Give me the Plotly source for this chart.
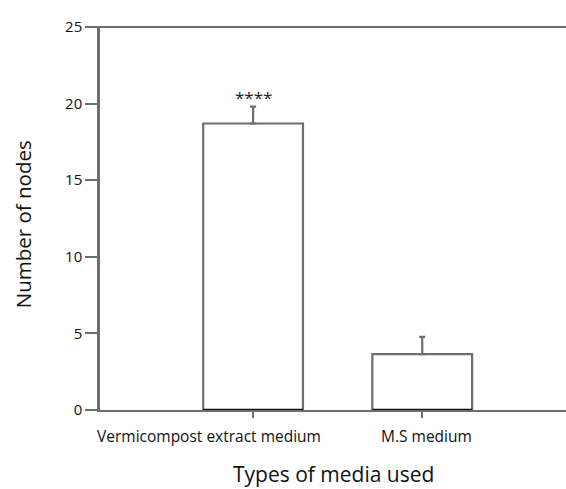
import plotly.graph_objects as go

# Mean number of nodes per culture medium, with standard deviation
media = ["Vermicompost extract medium", "M.S medium"]
nodes_mean = [18.7, 3.65]
nodes_sd = [1.1, 1.12]
significance = ["****", ""]
label_shift = [-44, 4]   # horizontal offset of each category label, px

axis_col = "#6e6e6e"
font_fam = "Open Sans, Liberation Sans, sans-serif"
bar_w = 0.59
xs = list(range(len(media)))

fig = go.Figure()
fig.add_trace(go.Bar(
    x=xs,
    y=nodes_mean,
    width=bar_w,
    marker=dict(color="white", line=dict(color=axis_col, width=2.2)),
    error_y=dict(type="data", symmetric=False, array=nodes_sd,
                 arrayminus=[0] * len(nodes_sd),
                 color=axis_col, thickness=2.2, width=3),
    showlegend=False,
))

# darker base line under each bar
base_x, base_y = [], []
for i in xs:
    base_x += [i - bar_w / 2, i + bar_w / 2, None]
    base_y += [0, 0, None]
fig.add_trace(go.Scatter(x=base_x, y=base_y, mode="lines",
                         line=dict(color="#111", width=2.5),
                         hoverinfo="skip", showlegend=False))

for i, (m, s, lab) in enumerate(zip(nodes_mean, nodes_sd, significance)):
    if lab:
        fig.add_annotation(x=i, y=m + s, text=lab, showarrow=False,
                           font=dict(family=font_fam, size=17, color="#222"),
                           yanchor="middle", yshift=9)

# category labels under the axis
for i, (name, dx) in enumerate(zip(media, label_shift)):
    fig.add_annotation(x=i, y=0, yref="y", text=name, showarrow=False,
                       font=dict(family=font_fam, size=15.5, color="#111"),
                       xanchor="center", yanchor="middle",
                       xshift=dx, yshift=-26)

# axis titles
fig.add_annotation(xref="paper", yref="paper", x=0.5, y=0, yshift=-64,
                   text="Types of media used", showarrow=False,
                   font=dict(family=font_fam, size=21, color="#111"),
                   xanchor="center", yanchor="middle")
fig.add_annotation(xref="paper", yref="paper", x=0, y=0.485, xshift=-77,
                   text="Number of nodes", showarrow=False, textangle=-90,
                   font=dict(family=font_fam, size=20.5, color="#111"),
                   xanchor="center", yanchor="middle")

# keep the right side of the frame open
fig.add_shape(type="rect", xref="paper", yref="paper", layer="above",
              x0=0.985, x1=1.03, y0=0.004, y1=0.996,
              fillcolor="white", line=dict(width=0))

# frame line along the top of the plot
fig.add_shape(type="line", xref="paper", yref="paper", layer="above",
              x0=-0.02, x1=1.03, y0=1, y1=1,
              line=dict(color=axis_col, width=2))

fig.update_layout(
    width=566, height=489,
    margin=dict(l=100, r=0, t=27, b=79),
    paper_bgcolor="white", plot_bgcolor="white",
    font=dict(family=font_fam, color="#111"),
    xaxis=dict(
        range=[-0.905, 1.85], automargin=False,
        tickmode="array", tickvals=xs, ticktext=["" for _ in media],
        ticks="outside", ticklen=6, tickwidth=1.5, tickcolor=axis_col,
        showline=True, linecolor=axis_col, linewidth=2,
        showgrid=False, zeroline=False,
    ),
    yaxis=dict(
        range=[0, 25], dtick=5, automargin=False,
        ticks="outside", ticklen=12, tickwidth=1.5, tickcolor=axis_col,
        showline=True, linecolor=axis_col, linewidth=2.5,
        showgrid=False, zeroline=False,
        tickfont=dict(size=15, color="#111"),
    ),
)

fig.write_html("out.html")
